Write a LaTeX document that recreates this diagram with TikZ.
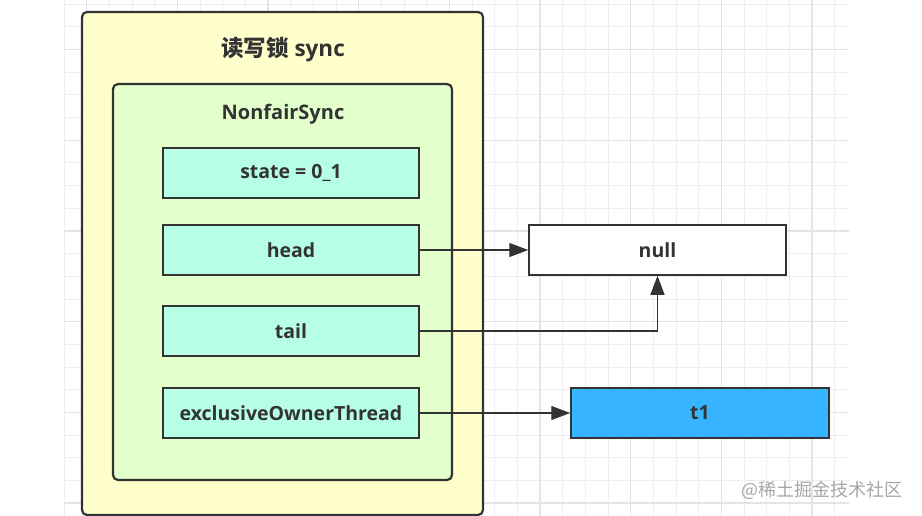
\documentclass[tikz,border=0pt]{standalone}
\usepackage{fontspec}
\setmainfont{Open Sans}
\newfontfamily\cjk{Noto Sans CJK SC}
\usetikzlibrary{arrows.meta}
\definecolor{lockfill}{HTML}{FFFFCC}
\definecolor{syncfill}{HTML}{E3FFCC}
\definecolor{fieldfill}{HTML}{B6FFE6}
\definecolor{threadfill}{HTML}{37B4FF}
\definecolor{edge}{HTML}{333333}
\definecolor{gridminor}{HTML}{EEEEEE}
\definecolor{gridmajor}{HTML}{E4E4E4}
\begin{document}
\begin{tikzpicture}[x=1pt,y=-1pt,
	box/.style={draw=edge,line width=1.5pt,minimum height=50pt,inner sep=0pt,
		font=\fontsize{19.5}{22}\selectfont\bfseries,text=edge},
	field/.style={box,fill=fieldfill,minimum width=256pt},
	frame/.style={draw=edge,line width=2.2pt,rounded corners=5pt,inner sep=0pt},
	link/.style={draw=edge,line width=1.2pt,-{Triangle[length=19pt,width=14pt]}}]
	\useasboundingbox (0,0) rectangle (922,516);
	\fill[white] (0,0) rectangle (922,516);
	% grid
	\foreach \i in {0,...,34}
		\draw[gridminor,line width=1pt] (64+22.667*\i,0) -- (64+22.667*\i,516);
	\foreach \j in {0,...,22}
		\draw[gridminor,line width=1pt] (64,4.33+22.667*\j) -- (849,4.33+22.667*\j);
	\foreach \i in {1,5,...,33}
		\draw[gridmajor,line width=1.2pt] (64+22.667*\i,0) -- (64+22.667*\i,516);
	\foreach \j in {2,6,...,22}
		\draw[gridmajor,line width=1.2pt] (64,4.33+22.667*\j) -- (849,4.33+22.667*\j);
	% containers
	\node[frame,fill=lockfill,minimum width=401pt,minimum height=503pt] (lock) at (282.5,263.5) {};
	\node[font=\fontsize{22.5}{26}\selectfont\bfseries,text=edge] (locktitle) at (283,50) {{\cjk 读写锁} sync};
	\node[frame,fill=syncfill,minimum width=339pt,minimum height=396pt] (sync) at (282.5,282) {};
	\node[font=\fontsize{20}{24}\selectfont\bfseries,text=edge] (synctitle) at (283,114) {NonfairSync};
	% fields
	\node[field] (state) at (291,173) {state = 0\_1};
	\node[field] (head) at (291,250) {head};
	\node[field] (tail) at (291,331) {tail};
	\node[field] (owner) at (291,413) {exclusiveOwnerThread};
	% targets
	\node[box,fill=white,minimum width=257pt] (null) at (657.5,250) {null};
	\node[box,fill=threadfill,minimum width=258pt] (t1) at (700,413) {t1};
	% links
	\draw[link] (head) -- (null);
	\draw[link] (tail.east) -| (null.south);
	\draw[link] (owner) -- (t1);
	% watermark
	\node[font=\cjk\fontsize{18}{21}\selectfont,text=black!35,anchor=east] (mark) at (906,490) {@稀土掘金技术社区};
\end{tikzpicture}
\end{document}
